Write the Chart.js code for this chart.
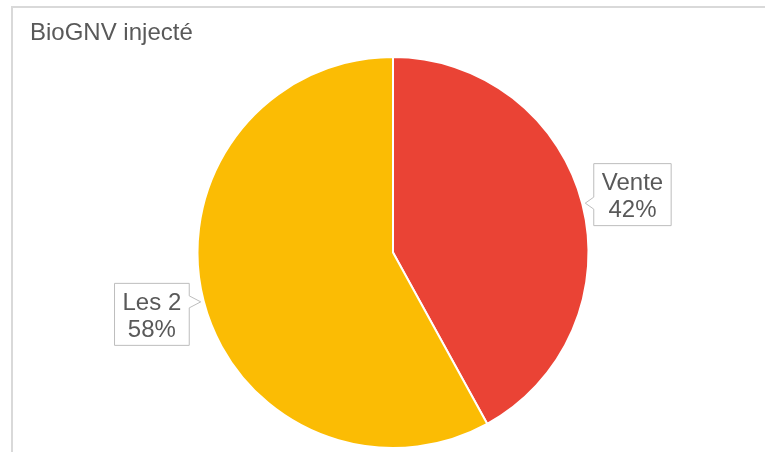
<!DOCTYPE html>
<html>
<head>
<meta charset="utf-8">
<script src="https://cdn.jsdelivr.net/npm/chart.js@4/dist/chart.umd.min.js"></script>
<style>
  html, body { margin: 0; padding: 0; background: #fff; }
  #wrap { width: 765px; height: 452px; position: relative; }
</style>
</head>
<body>
<div id="wrap"><canvas id="chart"></canvas></div>
<script>
const title = 'BioGNV injecté';
const labels = ['Vente', 'Les 2'];
const values = [42, 58];
const colors = ['#EA4335', '#FBBC04'];

// vertical shift of each callout box relative to its pointer tip
const calloutShift = [-40, -19];

const frame = {
    id: 'frame',
    beforeDraw(chart) {
        const { ctx } = chart;
        ctx.save();
        ctx.fillStyle = '#d9d9d9';
        ctx.fillRect(11, 6, 765 - 11, 2);
        ctx.fillRect(11, 6, 2, 452 - 6);
        ctx.fillStyle = '#595959';
        ctx.font = '24px "Liberation Sans", Arial, sans-serif';
        ctx.textBaseline = 'alphabetic';
        ctx.textAlign = 'left';
        ctx.fillText(title, 30, 40);
        ctx.restore();
    },
};

const callouts = {
    id: 'callouts',
    afterDatasetsDraw(chart) {
        const { ctx } = chart;
        const meta = chart.getDatasetMeta(0);
        const total = values.reduce((a, b) => a + b, 0);
        ctx.save();
        ctx.font = '24px "Liberation Sans", Arial, sans-serif';
        meta.data.forEach((arc, i) => {
            const p = arc.getProps(['x', 'y', 'startAngle', 'endAngle', 'outerRadius'], true);
            const mid = (p.startAngle + p.endAngle) / 2;
            const tipX = p.x + Math.cos(mid) * (p.outerRadius + 3);
            const tipY = p.y + Math.sin(mid) * (p.outerRadius + 3);
            const lines = [labels[i], Math.round(values[i] / total * 100) + '%'];
            const w = Math.max(...lines.map((t) => ctx.measureText(t).width)) + 17;
            const h = 63;
            const right = Math.cos(mid) >= 0;
            const bx = right ? tipX + 8 : tipX - 11 - w;
            const by = tipY + calloutShift[i];
            const edge = right ? bx : bx + w;

            ctx.beginPath();
            ctx.moveTo(bx + 0.5, by + 0.5);
            if (right) {
                ctx.lineTo(bx + w - 0.5, by + 0.5);
                ctx.lineTo(bx + w - 0.5, by + h - 0.5);
                ctx.lineTo(bx + 0.5, by + h - 0.5);
                ctx.lineTo(edge + 0.5, tipY + 6);
                ctx.lineTo(tipX, tipY);
                ctx.lineTo(edge + 0.5, tipY - 6);
            } else {
                ctx.lineTo(edge - 0.5, by + 0.5);
                ctx.lineTo(edge - 0.5, tipY - 6);
                ctx.lineTo(tipX, tipY);
                ctx.lineTo(edge - 0.5, tipY + 6);
                ctx.lineTo(edge - 0.5, by + h - 0.5);
                ctx.lineTo(bx + 0.5, by + h - 0.5);
            }
            ctx.closePath();
            ctx.fillStyle = '#ffffff';
            ctx.fill();
            ctx.strokeStyle = '#bdbdbd';
            ctx.lineWidth = 1;
            ctx.stroke();

            ctx.fillStyle = '#595959';
            ctx.textAlign = 'center';
            ctx.textBaseline = 'alphabetic';
            ctx.fillText(lines[0], bx + w / 2, by + 27);
            ctx.fillText(lines[1], bx + w / 2, by + 54);
        });
        ctx.restore();
    },
};

new Chart(document.getElementById('chart'), {
    type: 'pie',
    data: {
        labels,
        datasets: [{
            data: values,
            backgroundColor: colors,
            borderColor: '#ffffff',
            borderWidth: 2,
        }],
    },
    options: {
        responsive: true,
        maintainAspectRatio: false,
        animation: false,
        events: [],
        layout: { padding: { top: 56, bottom: 3, left: 21, right: 0 } },
        plugins: {
            legend: { display: false },
            tooltip: { enabled: false },
            title: { display: false },
        },
    },
    plugins: [frame, callouts],
});
</script>
</body>
</html>
